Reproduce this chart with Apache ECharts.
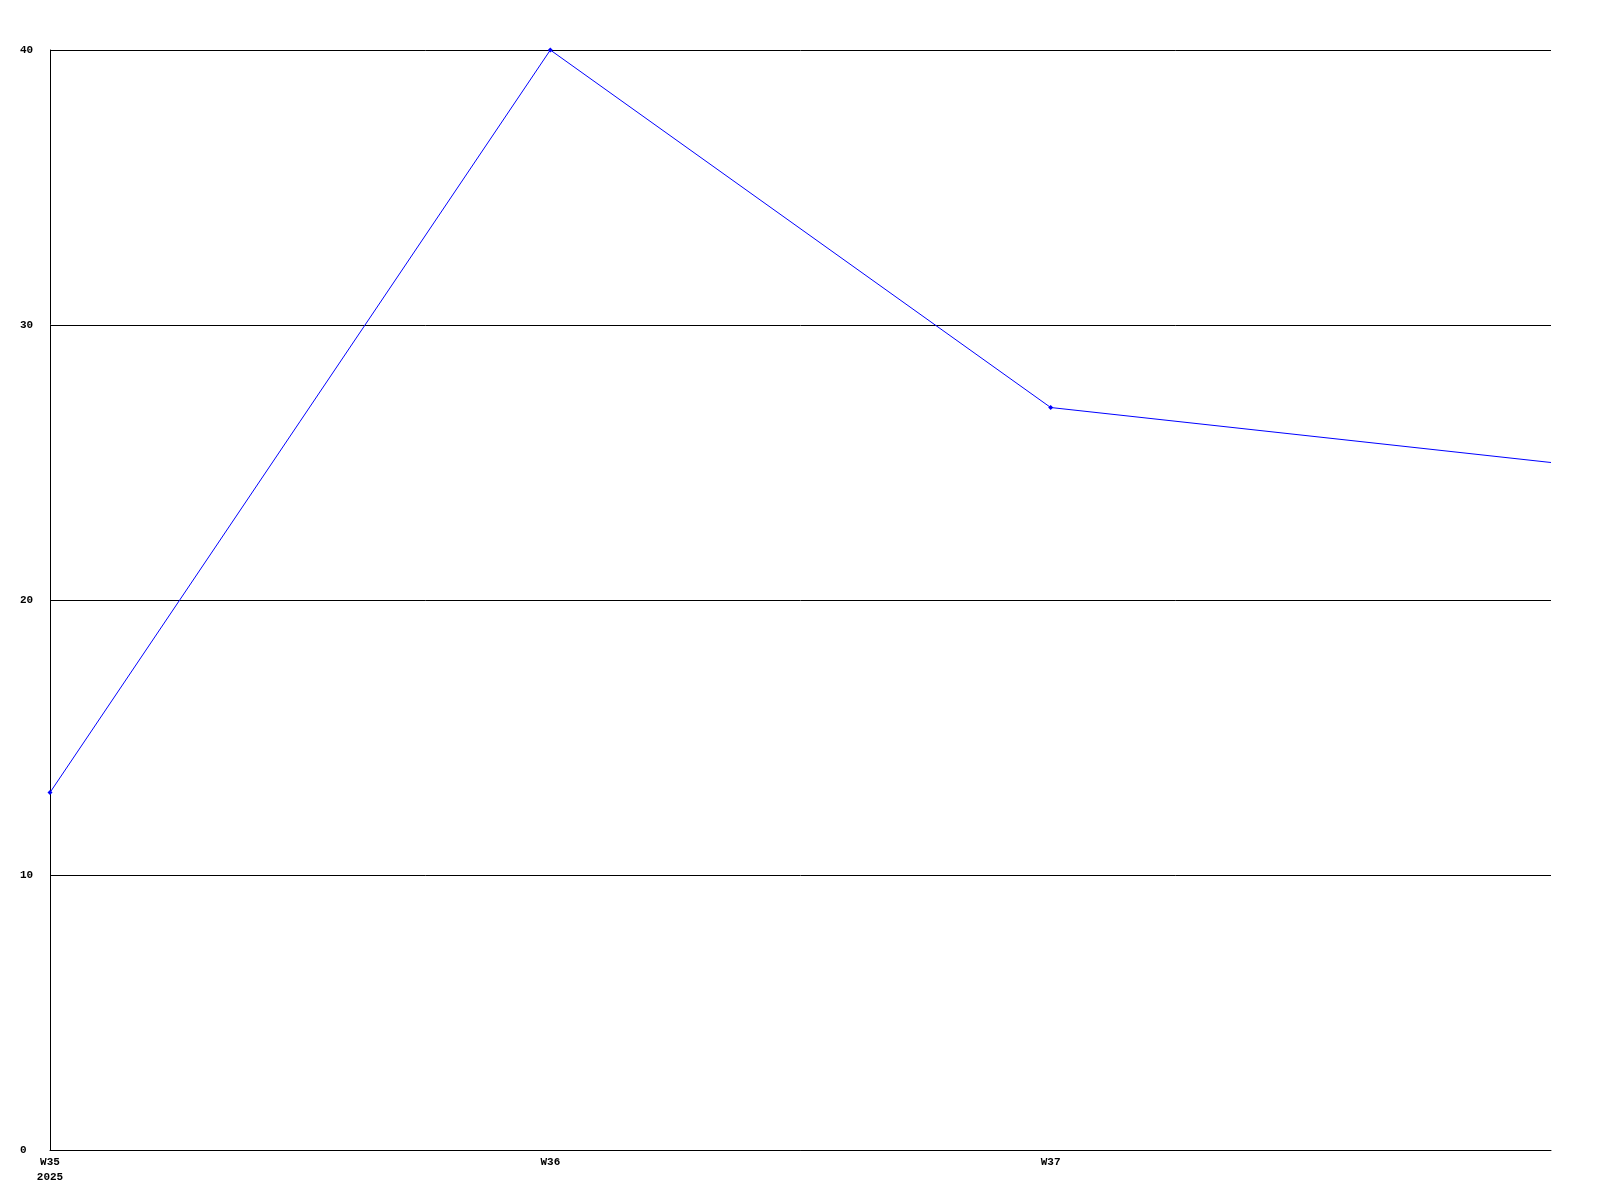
<!DOCTYPE html>
<html>
<head>
<meta charset="utf-8">
<script src="https://cdn.jsdelivr.net/npm/echarts@6/dist/echarts.min.js"></script>
<style>html,body{margin:0;padding:0;background:#fff}#c{width:1600px;height:1200px}</style>
</head>
<body>
<div id="c"></div>
<script>
var categories = ['W35\n2025', 'W36', 'W37', ''];
var values = [13, 40, 27, 25];
var yTicks = [0, 10, 20, 30, 40];

var chart = echarts.init(document.getElementById('c'), null, {renderer: 'canvas'});
var font = {fontFamily: 'Liberation Mono', fontWeight: 'bold', fontSize: 11, color: '#000'};
chart.setOption({
  animation: false,
  backgroundColor: '#fff',
  grid: {left: 50, right: 49, top: 50, bottom: 50, containLabel: false},
  xAxis: {
    type: 'category',
    data: categories,
    boundaryGap: false,
    axisLine: {show: true, lineStyle: {color: '#000', width: 1}},
    axisTick: {show: false},
    splitLine: {show: false},
    axisLabel: Object.assign({}, font, {margin: 5, align: 'center', lineHeight: 15, interval: 0})
  },
  yAxis: {
    type: 'value',
    min: yTicks[0],
    max: yTicks[yTicks.length - 1],
    interval: 10,
    axisLine: {show: true, lineStyle: {color: '#000', width: 1}},
    axisTick: {show: false},
    splitLine: {show: true, lineStyle: {color: '#000', width: 1}},
    axisLabel: Object.assign({}, font, {margin: 30, align: 'left'})
  },
  series: [{
    type: 'line',
    data: values.map(function (v, i) { return i < values.length - 1 ? v : {value: v, symbolSize: 0}; }),
    symbol: 'diamond',
    symbolSize: 5,
    showSymbol: true,
    lineStyle: {color: '#0000ff', width: 1},
    itemStyle: {color: '#0000ff'},
    z: 5
  }]
});
</script>
</body>
</html>
